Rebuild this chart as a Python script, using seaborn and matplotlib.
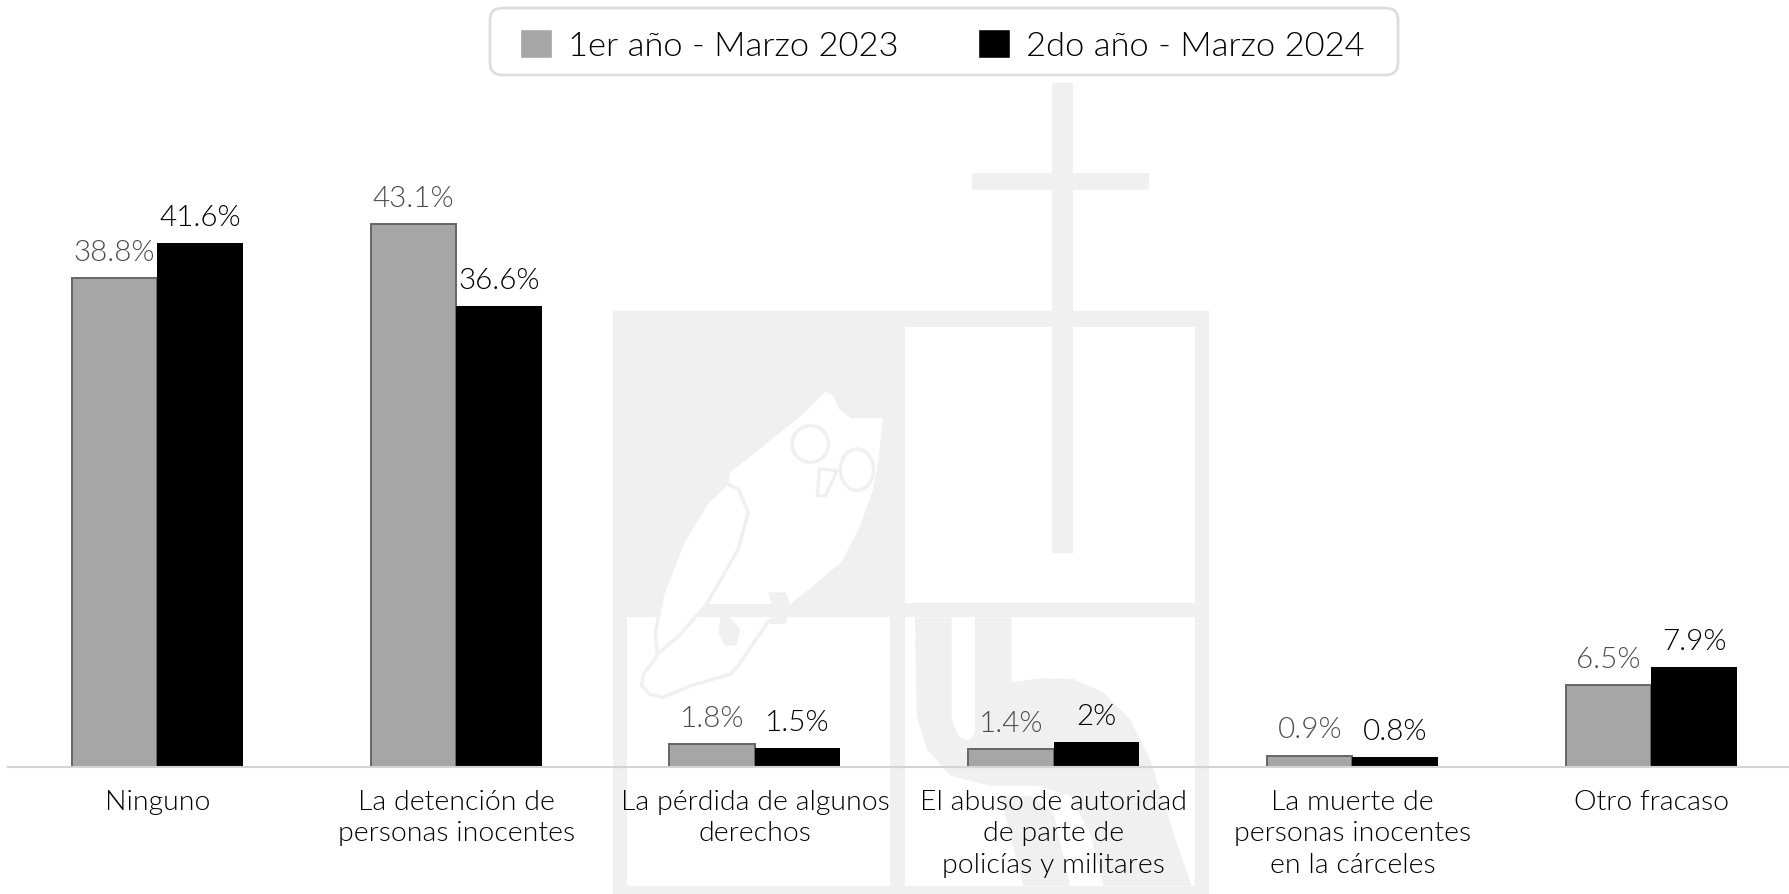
import matplotlib
matplotlib.use("Agg")
import matplotlib.pyplot as plt
import pandas as pd
import seaborn as sns
from matplotlib.patches import Ellipse, FancyBboxPatch, Polygon, Rectangle

CATEGORIES = [
    "Ninguno",
    "La detención de\npersonas inocentes",
    "La pérdida de algunos\nderechos",
    "El abuso de autoridad\nde parte de\npolicías y militares",
    "La muerte de\npersonas inocentes\nen la cárceles",
    "Otro fracaso",
]
YEAR_1 = [38.8, 43.1, 1.8, 1.4, 0.9, 6.5]
YEAR_2 = [41.6, 36.6, 1.5, 2.0, 0.8, 7.9]
LABELS_1 = ["38.8%", "43.1%", "1.8%", "1.4%", "0.9%", "6.5%"]
LABELS_2 = ["41.6%", "36.6%", "1.5%", "2%", "0.8%", "7.9%"]
SERIES = ["1er año - Marzo 2023", "2do año - Marzo 2024"]

W, H = 1790, 895
WM = "#f0f0f0"


def fx(x):
    return x / W


def fy(y):
    return 1 - y / H


def add_box(fig, x0, y0, x1, y1, color, z):
    fig.add_artist(Rectangle((fx(x0), fy(y1)), (x1 - x0) / W, (y1 - y0) / H,
                             transform=fig.transFigure, fc=color, ec="none", zorder=z))


def draw_watermark(fig):
    # logo behind the chart, pixel positions
    add_box(fig, 613, 312, 1209, 895, WM, -5)
    add_box(fig, 905, 328, 1195, 604, "white", -4)
    add_box(fig, 627, 618, 890, 887, "white", -4)
    add_box(fig, 905, 618, 1195, 887, "white", -4)
    add_box(fig, 1052, 84, 1073, 554, WM, -3)
    add_box(fig, 972, 174, 1149, 191, WM, -3)

    def zx(v):
        return 600 + v / 2.53

    def zy(v):
        return 300 + v / 3

    def poly(points, fc, ec="none", lw=0, closed=True, z=-3):
        pts = [(fx(zx(a)), fy(zy(b))) for a, b in points]
        fig.add_artist(Polygon(pts, closed=closed, transform=fig.transFigure,
                               fc=fc, ec=ec, lw=lw, zorder=z, joinstyle="round"))

    body = [(515, 345), (570, 278), (590, 290), (605, 330), (635, 358), (715, 358), (705, 480),
            (690, 575), (655, 690), (610, 790), (540, 860), (480, 915), (270, 915), (330, 520)]
    poly(body, "white")
    wing = [(320, 555), (350, 570), (375, 640), (350, 750), (270, 915), (200, 1010),
            (145, 1065), (140, 1000), (160, 880), (210, 730), (270, 610)]
    poly(wing, "white", WM, 2.5)
    tail = [(145, 1070), (110, 1125), (105, 1160), (125, 1185), (160, 1195), (230, 1160),
            (330, 1125), (350, 1100), (430, 960)]
    poly(tail, "none", WM, 2.5, closed=False)
    poly([(305, 950), (325, 950), (355, 990), (345, 1040), (315, 1040), (300, 1000)], WM)
    poly([(425, 880), (470, 880), (480, 915), (470, 975), (430, 975), (435, 915)], WM)
    for cx, cy, rx, ry in [(532, 435, 46, 55), (650, 512, 42, 62)]:
        fig.add_artist(Ellipse((fx(zx(cx)), fy(zy(cy))), 2 * rx / 2.53 / W, 2 * ry / 3 / H,
                               transform=fig.transFigure, fc="white", ec=WM, lw=2.5, zorder=-2))
    poly([(555, 510), (550, 590), (570, 590), (600, 515)], "white", WM, 2.5)

    def letter(points, fc):
        pts = [(fx(890 + a / 3), fy(600 + b / 3)) for a, b in points]
        fig.add_artist(Polygon(pts, closed=True, transform=fig.transFigure, fc=fc, ec="none", zorder=-3))

    letter([(75, 55), (185, 55), (185, 360), (205, 410), (235, 425), (255, 400), (255, 55), (365, 55),
            (365, 250), (450, 238), (550, 240), (640, 280), (720, 360), (780, 480), (850, 700),
            (905, 860), (640, 860), (600, 700), (540, 590), (440, 560), (300, 560), (180, 530),
            (110, 450), (80, 350)], WM)
    letter([(330, 590), (420, 590), (490, 640), (540, 860), (400, 860)], WM)


sns.set_theme(style="white")
plt.rcParams["font.family"] = ["Lato", "DejaVu Sans"]

df = pd.DataFrame({
    "categoria": CATEGORIES * 2,
    "valor": YEAR_1 + YEAR_2,
    "serie": [SERIES[0]] * 6 + [SERIES[1]] * 6,
})

fig = plt.figure(figsize=(W / 100, H / 100), dpi=100)
fig.patch.set_facecolor("white")
ax = fig.add_axes([8 / W, 1 - 768 / H, (W - 8) / W, 768 / H])
ax.patch.set_alpha(0)
draw_watermark(fig)

sns.barplot(data=df, x="categoria", y="valor", hue="serie", order=CATEGORIES, hue_order=SERIES,
            palette=["#a6a6a6", "#000000"], width=0.572, gap=0, saturation=1, ax=ax)

for cont, labels, edge, lw, color in zip(ax.containers, [LABELS_1, LABELS_2], ["#666666", "none"], [1.4, 0],
                                         ["#4d4d4d", "#000000"]):
    for bar in cont:
        bar.set_edgecolor(edge)
        bar.set_linewidth(lw)
    ax.bar_label(cont, labels=labels, padding=9.5, fontsize=21.3, color=color, fontweight=300)

ax.set_xlim(-0.5, (W - 157.5) / 298.75)
ax.set_ylim(0, 768 / 12.6)
ax.set_xlabel("")
ax.set_ylabel("")
ax.set_yticks([])
ax.tick_params(axis="x", length=0, pad=16, labelsize=20.5, labelcolor="#000000")
for tick in ax.get_xticklabels():
    tick.set_fontweight(300)
    tick.set_linespacing(1.31)
sns.despine(ax=ax, left=True)
ax.spines["bottom"].set_color("#d4d4d4")
ax.spines["bottom"].set_linewidth(1.5)

fig.add_artist(FancyBboxPatch((490 / W, 1 - 76 / H), 908 / W, 67 / H, boxstyle="round,pad=0,rounding_size=0.007",
                              mutation_aspect=2, transform=fig.transFigure, fc="white", ec="#dddddd", lw=2, zorder=-1))

sns.move_legend(ax, "center", bbox_to_anchor=(942 / W, 1 - 46 / H),
                bbox_transform=fig.transFigure, ncol=2, title=None, frameon=False,
                fontsize=24.8, handlelength=0.93, handleheight=0.93, handletextpad=0.47,
                columnspacing=2.3, borderpad=0, borderaxespad=0)
leg = ax.get_legend()
leg.set_zorder(5)
for text in leg.get_texts():
    text.set_fontweight(300)
    text.set_color("#000000")

fig.savefig("out.png", dpi=100)
